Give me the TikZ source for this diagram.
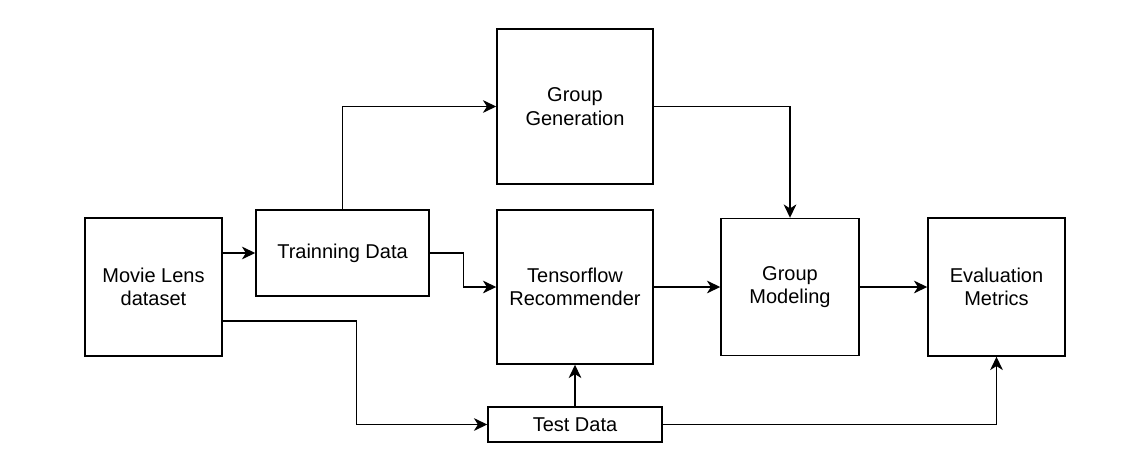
\documentclass[tikz,border=0pt]{standalone}
\usepackage{fontspec}
\setmainfont{Liberation Sans}
\usetikzlibrary{arrows.meta}

\tikzset{
    stage/.style={draw, line width=1.1pt, align=center, inner sep=0pt, font=\fontsize{15}{17.5}\selectfont},
    flow/.style={-{Stealth[length=10pt, width=9.5pt, inset=3pt]}, line width=1.1pt}
}

\begin{document}
\begin{tikzpicture}[x=0.75pt, y=-0.75pt]
        \useasboundingbox (0, 0) rectangle (1126, 460);
        \node[stage, minimum width=102.75pt, minimum height=103.5pt] at (153.5, 287) (movielens) {Movie Lens\\dataset};
        \node[stage, minimum width=129.75pt, minimum height=64.5pt] at (342.5, 253) (traindata) {Trainning Data};
        \node[stage, minimum width=117pt, minimum height=116.25pt] at (575, 106.5) (groupgen) {Group\\Generation};
        \node[stage, minimum width=117pt, minimum height=115.5pt] at (575, 287) (tfrec) {Tensorflow\\Recommender};
        \node[stage, minimum width=103.5pt, minimum height=102.75pt] at (790, 287) (groupmod) {Group\\Modeling};
        \node[stage, minimum width=102.75pt, minimum height=103.5pt] at (996.5, 287) (evalmet) {Evaluation\\Metrics};
        \node[stage, minimum width=130.5pt, minimum height=26.25pt] at (575, 424.5) (testdata) {Test Data};
        \draw[flow] (movielens.east |- traindata.west) -- (traindata.west);
        \draw[flow] (traindata.east) -- ++(34, 0) |- (tfrec.west);
        \draw[flow] (traindata.north) |- (groupgen.west);
        \draw[flow] ([yshift=-25.5pt]movielens.east) -- ++(134, 0) |- (testdata.west);
        \draw[flow] (testdata.north) -- (tfrec.south);
        \draw[flow] (testdata.east) -| (evalmet.south);
        \draw[flow] (tfrec.east) -- (groupmod.west);
        \draw[flow] (groupgen.east) -| (groupmod.north);
        \draw[flow] (groupmod.east) -- (evalmet.west);
        \end{tikzpicture}
\end{document}
